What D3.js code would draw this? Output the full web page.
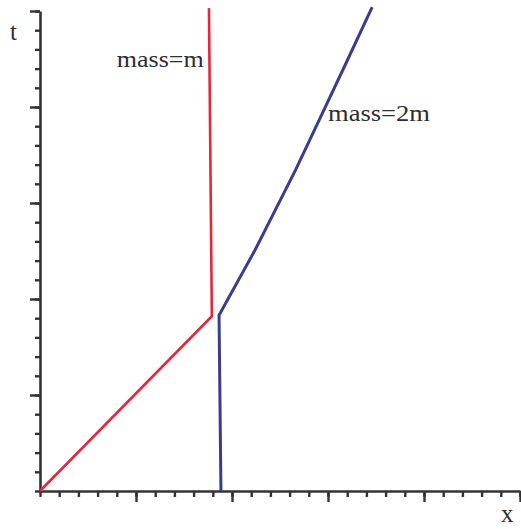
<!DOCTYPE html>
<html>
<head>
<meta charset="utf-8">
<script src="https://cdn.jsdelivr.net/npm/d3@7"></script>
<style>
  html, body { margin: 0; padding: 0; background: #fff; }
  svg { display: block; }
  text { font-family: "Liberation Serif", "Times New Roman", serif; fill: #2e2e2e; }
</style>
</head>
<body>
<svg id="chart" width="521" height="529"></svg>
<script>
// Position-time paths (x, t) for the two masses
const redPath = [[0, 0], [1.79, 1.82], [1.76, 5.03]];
const bluePath = [[1.885, 0], [1.865, 1.83], [2.24, 2.51], [2.66, 3.34], [2.92, 3.89], [3.18, 4.44], [3.46, 5.04]];
const seriesLabels = ["mass=m", "mass=2m"];
const labelAnchors = [[0.80, 4.42], [3.0, 3.85]]; // text start in data units
const axisLabels = ["x", "t"];
const minorTicks = d3.range(0, 25.5, 1).map(i => i / 5);
const majorTicks = [0, 1, 2, 3, 4, 5];

const svg = d3.select("#chart");
const x = d3.scaleLinear().domain([0, 5]).range([40, 520]);
const y = d3.scaleLinear().domain([0, 5]).range([491, 11]);

const axisColor = "#333";

function styleAxis(g) {
  g.selectAll("path.domain").attr("stroke", axisColor).attr("stroke-width", 2.6);
  g.selectAll(".tick line").attr("stroke", axisColor).attr("stroke-width", 2.4);
  g.selectAll(".tick text").remove();
}

// x axis: minor and major ticks
svg.append("g").attr("transform", `translate(0,${y(0)})`)
  .call(d3.axisBottom(x).tickValues(minorTicks).tickSize(6).tickSizeOuter(0).tickFormat(""))
  .call(styleAxis);
svg.append("g").attr("transform", `translate(0,${y(0)})`)
  .call(d3.axisBottom(x).tickValues(majorTicks.slice(1)).tickSize(11).tickSizeOuter(0).tickFormat(""))
  .call(styleAxis)
  .call(g => g.select("path.domain").remove());

// t axis: minor and major ticks
svg.append("g").attr("transform", `translate(${x(0)},0)`)
  .call(d3.axisLeft(y).tickValues(minorTicks).tickSize(5).tickSizeOuter(0).tickFormat(""))
  .call(styleAxis);
svg.append("g").attr("transform", `translate(${x(0)},0)`)
  .call(d3.axisLeft(y).tickValues(majorTicks.slice(1)).tickSize(10).tickSizeOuter(0).tickFormat(""))
  .call(styleAxis)
  .call(g => g.select("path.domain").remove());

// world lines
const line = d3.line().x(d => x(d[0])).y(d => y(d[1]));
svg.append("path").datum(redPath)
  .attr("d", line).attr("fill", "none")
  .attr("stroke", "#e3283a").attr("stroke-width", 2.6).attr("stroke-linejoin", "round");
svg.append("path").datum(bluePath)
  .attr("d", line).attr("fill", "none")
  .attr("stroke", "#3b3c8e").attr("stroke-width", 3).attr("stroke-linejoin", "round");

// series labels
const labelWidths = [87, 102];
seriesLabels.forEach((s, i) => {
  svg.append("text")
    .attr("x", x(labelAnchors[i][0]))
    .attr("y", y(labelAnchors[i][1]))
    .attr("font-size", 23)
    .attr("textLength", labelWidths[i])
    .attr("lengthAdjust", "spacingAndGlyphs")
    .text(s);
});

// axis labels
svg.append("text").attr("x", 501).attr("y", 522).attr("font-size", 25).text(axisLabels[0]);
svg.append("text").attr("x", 10).attr("y", 40).attr("font-size", 25).text(axisLabels[1]);
</script>
</body>
</html>
